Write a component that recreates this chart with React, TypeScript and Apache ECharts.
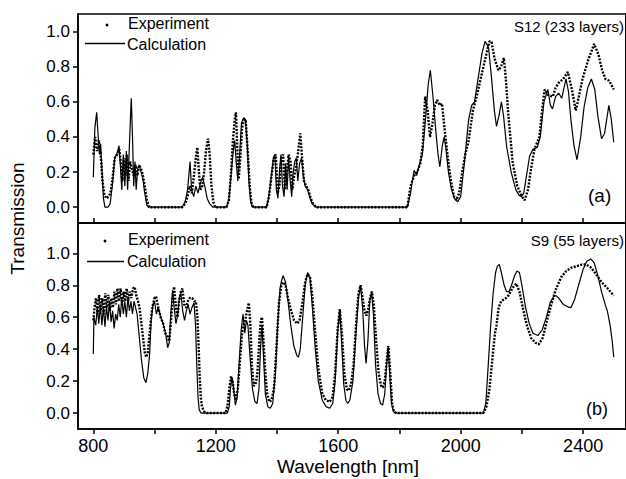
import React, { useEffect, useRef } from "react";
import * as echarts from "echarts";

// ---------- data (wavelength nm, transmission) ----------
const xMajorLabels = [800, 1200, 1600, 2000, 2400];
const xTicks = [800, 1000, 1200, 1400, 1600, 1800, 2000, 2200, 2400];
const yMajor = [0, 0.2, 0.4, 0.6, 0.8, 1.0];
const yMinor = [0.1, 0.3, 0.5, 0.7, 0.9];

const topExperiment: [number, number][] = [
  [800, 0.3], [806, 0.4], [812, 0.32], [818, 0.38], [824, 0.3], [830, 0.15], [836, 0.07], [843, 0.05],
  [850, 0.06], [856, 0.08], [862, 0.15], [870, 0.28], [878, 0.3], [885, 0.33], [890, 0.25], [895, 0.15],
  [900, 0.28], [905, 0.18], [910, 0.3], [915, 0.15], [920, 0.26], [926, 0.22], [932, 0.18], [938, 0.24],
  [944, 0.18], [950, 0.24], [956, 0.22], [962, 0.18], [968, 0.12], [975, 0.04], [982, 0.0], [1090, 0.0],
  [1100, 0.02], [1108, 0.06], [1115, 0.12], [1122, 0.08], [1130, 0.2], [1136, 0.3], [1140, 0.34], [1145, 0.2],
  [1150, 0.1], [1156, 0.12], [1162, 0.2], [1168, 0.32], [1175, 0.39], [1180, 0.3], [1186, 0.12], [1192, 0.03],
  [1198, 0.0], [1235, 0.0], [1243, 0.04], [1250, 0.2], [1256, 0.38], [1262, 0.5], [1266, 0.54], [1270, 0.35],
  [1275, 0.16], [1280, 0.28], [1286, 0.45], [1292, 0.5], [1298, 0.49], [1305, 0.3], [1311, 0.12], [1316, 0.03],
  [1322, 0.0], [1366, 0.0], [1374, 0.06], [1382, 0.18], [1390, 0.28], [1396, 0.3], [1402, 0.08], [1408, 0.12],
  [1414, 0.28], [1420, 0.3], [1426, 0.1], [1432, 0.2], [1438, 0.3], [1444, 0.26], [1450, 0.1], [1456, 0.18],
  [1462, 0.22], [1468, 0.3], [1476, 0.42], [1482, 0.28], [1488, 0.15], [1495, 0.12], [1502, 0.1], [1510, 0.05],
  [1518, 0.02], [1528, 0.0], [1826, 0.0], [1836, 0.12], [1848, 0.18], [1858, 0.2], [1868, 0.25], [1876, 0.35],
  [1884, 0.63], [1892, 0.55], [1900, 0.4], [1908, 0.48], [1916, 0.58], [1923, 0.61], [1932, 0.58], [1939, 0.59],
  [1949, 0.42], [1958, 0.28], [1968, 0.15], [1978, 0.06], [1986, 0.04], [1995, 0.08], [2005, 0.2], [2015, 0.3],
  [2026, 0.38], [2040, 0.55], [2052, 0.63], [2069, 0.76], [2085, 0.88], [2094, 0.945], [2101, 0.94], [2110, 0.85],
  [2123, 0.78], [2132, 0.8], [2141, 0.85], [2148, 0.72], [2155, 0.54], [2170, 0.25], [2185, 0.12], [2200, 0.06],
  [2209, 0.04], [2220, 0.1], [2230, 0.22], [2241, 0.33], [2257, 0.4], [2266, 0.55], [2274, 0.67], [2285, 0.64],
  [2301, 0.63], [2310, 0.68], [2321, 0.71], [2335, 0.73], [2350, 0.77], [2362, 0.68], [2376, 0.55], [2386, 0.63],
  [2398, 0.73], [2415, 0.83], [2436, 0.93], [2450, 0.87], [2462, 0.78], [2473, 0.73], [2485, 0.72], [2500, 0.67],
];

const topCalculation: [number, number][] = [
  [800, 0.17], [805, 0.45], [811, 0.54], [816, 0.4], [820, 0.3], [824, 0.36], [828, 0.22], [833, 0.05],
  [838, 0.0], [848, 0.0], [855, 0.02], [862, 0.12], [870, 0.28], [878, 0.31], [884, 0.35], [889, 0.22],
  [893, 0.1], [898, 0.3], [903, 0.12], [908, 0.32], [912, 0.1], [916, 0.26], [920, 0.45], [924, 0.62],
  [928, 0.4], [932, 0.12], [936, 0.26], [940, 0.1], [945, 0.22], [950, 0.24], [956, 0.2], [962, 0.16],
  [968, 0.08], [975, 0.01], [985, 0.0], [1090, 0.0], [1100, 0.03], [1108, 0.1], [1116, 0.26], [1121, 0.1],
  [1128, 0.06], [1135, 0.12], [1142, 0.08], [1150, 0.14], [1157, 0.17], [1164, 0.12], [1172, 0.05], [1180, 0.02],
  [1190, 0.0], [1235, 0.0], [1243, 0.05], [1250, 0.18], [1257, 0.32], [1262, 0.38], [1267, 0.25], [1272, 0.15],
  [1278, 0.3], [1284, 0.48], [1291, 0.51], [1297, 0.5], [1303, 0.35], [1308, 0.15], [1314, 0.03], [1320, 0.0],
  [1366, 0.0], [1372, 0.05], [1380, 0.15], [1388, 0.28], [1393, 0.3], [1398, 0.1], [1403, 0.05], [1408, 0.2],
  [1413, 0.3], [1418, 0.12], [1423, 0.06], [1428, 0.25], [1433, 0.1], [1438, 0.28], [1443, 0.15], [1448, 0.06],
  [1453, 0.2], [1458, 0.26], [1463, 0.28], [1468, 0.15], [1474, 0.25], [1480, 0.28], [1486, 0.18], [1492, 0.12],
  [1500, 0.1], [1508, 0.05], [1515, 0.02], [1525, 0.0], [1826, 0.0], [1836, 0.08], [1848, 0.21], [1856, 0.18],
  [1866, 0.25], [1875, 0.3], [1885, 0.5], [1894, 0.7], [1901, 0.78], [1910, 0.62], [1918, 0.45], [1926, 0.3],
  [1932, 0.23], [1940, 0.35], [1946, 0.4], [1952, 0.33], [1960, 0.2], [1970, 0.1], [1980, 0.05], [1990, 0.03],
  [2000, 0.06], [2012, 0.25], [2026, 0.5], [2036, 0.58], [2045, 0.6], [2058, 0.745], [2070, 0.88], [2080, 0.945],
  [2091, 0.91], [2100, 0.75], [2110, 0.55], [2117, 0.46], [2125, 0.52], [2133, 0.6], [2140, 0.52], [2150, 0.345],
  [2165, 0.2], [2180, 0.1], [2190, 0.07], [2198, 0.06], [2206, 0.08], [2215, 0.18], [2225, 0.29], [2236, 0.33],
  [2250, 0.34], [2260, 0.4], [2272, 0.6], [2285, 0.67], [2293, 0.58], [2300, 0.56], [2310, 0.63], [2320, 0.65],
  [2330, 0.62], [2344, 0.73], [2352, 0.66], [2360, 0.5], [2370, 0.35], [2380, 0.27], [2392, 0.4], [2403, 0.57],
  [2415, 0.68], [2427, 0.73], [2438, 0.67], [2448, 0.52], [2460, 0.39], [2470, 0.42], [2484, 0.58], [2492, 0.5],
  [2500, 0.37],
];

const bottomExperiment: [number, number][] = [
  [800, 0.58], [804, 0.66], [809, 0.72], [814, 0.62], [819, 0.74], [824, 0.64], [829, 0.72], [834, 0.62],
  [839, 0.75], [844, 0.66], [849, 0.74], [854, 0.64], [859, 0.72], [864, 0.66], [869, 0.76], [874, 0.68],
  [879, 0.78], [884, 0.7], [889, 0.78], [894, 0.68], [899, 0.76], [904, 0.7], [909, 0.78], [914, 0.7],
  [919, 0.76], [924, 0.72], [930, 0.78], [935, 0.79], [940, 0.74], [946, 0.7], [951, 0.66], [956, 0.58],
  [962, 0.48], [968, 0.38], [973, 0.35], [978, 0.38], [984, 0.5], [990, 0.62], [995, 0.68], [1000, 0.72],
  [1005, 0.73], [1012, 0.66], [1020, 0.6], [1028, 0.56], [1035, 0.5], [1042, 0.48], [1048, 0.45], [1054, 0.58],
  [1059, 0.72], [1064, 0.79], [1070, 0.66], [1075, 0.6], [1080, 0.7], [1086, 0.76], [1091, 0.78], [1097, 0.68],
  [1103, 0.66], [1109, 0.7], [1115, 0.72], [1123, 0.72], [1130, 0.7], [1135, 0.7], [1140, 0.6], [1144, 0.42],
  [1147, 0.25], [1151, 0.1], [1155, 0.04], [1162, 0.01], [1170, 0.0], [1232, 0.0], [1238, 0.04], [1244, 0.15],
  [1250, 0.23], [1255, 0.2], [1260, 0.12], [1266, 0.08], [1272, 0.15], [1280, 0.35], [1286, 0.5], [1292, 0.56],
  [1298, 0.6], [1304, 0.66], [1308, 0.69], [1313, 0.55], [1318, 0.3], [1324, 0.17], [1330, 0.18], [1336, 0.25],
  [1342, 0.45], [1347, 0.58], [1351, 0.6], [1356, 0.45], [1362, 0.25], [1368, 0.12], [1375, 0.07], [1382, 0.08],
  [1390, 0.15], [1398, 0.4], [1406, 0.68], [1414, 0.8], [1420, 0.82], [1428, 0.8], [1436, 0.72], [1446, 0.64],
  [1456, 0.58], [1466, 0.56], [1474, 0.58], [1484, 0.7], [1492, 0.82], [1500, 0.87], [1508, 0.85], [1516, 0.72],
  [1525, 0.5], [1535, 0.28], [1548, 0.12], [1560, 0.08], [1572, 0.07], [1582, 0.1], [1590, 0.25], [1598, 0.52],
  [1605, 0.65], [1612, 0.5], [1620, 0.25], [1628, 0.15], [1634, 0.14], [1642, 0.18], [1650, 0.3], [1658, 0.55],
  [1666, 0.75], [1673, 0.8], [1680, 0.72], [1686, 0.64], [1692, 0.61], [1698, 0.65], [1704, 0.72], [1710, 0.76],
  [1716, 0.68], [1724, 0.45], [1732, 0.25], [1740, 0.17], [1746, 0.16], [1752, 0.2], [1758, 0.32], [1764, 0.42],
  [1770, 0.25], [1776, 0.06], [1782, 0.01], [1790, 0.0], [2074, 0.0], [2084, 0.04], [2094, 0.15], [2104, 0.35],
  [2112, 0.5], [2117, 0.55], [2124, 0.66], [2132, 0.7], [2140, 0.71], [2148, 0.72], [2158, 0.74], [2168, 0.78],
  [2176, 0.8], [2182, 0.81], [2192, 0.76], [2204, 0.65], [2216, 0.55], [2230, 0.47], [2244, 0.44], [2255, 0.43],
  [2268, 0.47], [2282, 0.58], [2296, 0.68], [2310, 0.77], [2328, 0.85], [2345, 0.89], [2362, 0.91], [2380, 0.92],
  [2396, 0.93], [2410, 0.93], [2426, 0.91], [2442, 0.87], [2460, 0.82], [2480, 0.78], [2500, 0.735],
];

const bottomCalculation: [number, number][] = [
  [800, 0.37], [802, 0.6], [808, 0.55], [813, 0.66], [818, 0.56], [823, 0.68], [828, 0.55], [833, 0.66],
  [838, 0.54], [843, 0.67], [848, 0.58], [853, 0.7], [858, 0.57], [863, 0.64], [868, 0.53], [873, 0.62],
  [878, 0.58], [883, 0.68], [888, 0.6], [893, 0.72], [898, 0.62], [903, 0.7], [908, 0.6], [913, 0.72],
  [918, 0.64], [923, 0.7], [928, 0.62], [933, 0.7], [938, 0.66], [943, 0.62], [950, 0.48], [958, 0.32],
  [965, 0.22], [972, 0.19], [978, 0.25], [984, 0.37], [989, 0.58], [995, 0.68], [1000, 0.7], [1006, 0.62],
  [1012, 0.66], [1020, 0.6], [1028, 0.56], [1036, 0.5], [1043, 0.41], [1048, 0.44], [1053, 0.62], [1059, 0.77],
  [1064, 0.66], [1070, 0.56], [1076, 0.62], [1081, 0.72], [1086, 0.75], [1092, 0.64], [1098, 0.58], [1104, 0.64],
  [1110, 0.68], [1116, 0.62], [1122, 0.66], [1129, 0.69], [1134, 0.55], [1138, 0.3], [1142, 0.1], [1146, 0.02],
  [1152, 0.0], [1238, 0.0], [1244, 0.04], [1248, 0.15], [1253, 0.22], [1258, 0.16], [1264, 0.05], [1270, 0.1],
  [1276, 0.3], [1283, 0.52], [1289, 0.62], [1295, 0.5], [1300, 0.58], [1305, 0.55], [1312, 0.35], [1320, 0.15],
  [1328, 0.07], [1335, 0.06], [1341, 0.15], [1346, 0.4], [1351, 0.55], [1356, 0.35], [1362, 0.12], [1370, 0.04],
  [1378, 0.03], [1386, 0.06], [1395, 0.25], [1402, 0.55], [1410, 0.78], [1415, 0.83], [1420, 0.86], [1428, 0.82],
  [1436, 0.7], [1445, 0.55], [1455, 0.42], [1465, 0.36], [1470, 0.35], [1476, 0.4], [1484, 0.6], [1492, 0.8],
  [1500, 0.88], [1508, 0.84], [1516, 0.65], [1525, 0.4], [1535, 0.2], [1548, 0.08], [1560, 0.04], [1572, 0.03],
  [1582, 0.06], [1590, 0.2], [1598, 0.5], [1605, 0.65], [1611, 0.45], [1618, 0.18], [1625, 0.08], [1631, 0.06],
  [1638, 0.08], [1648, 0.2], [1658, 0.5], [1666, 0.72], [1673, 0.8], [1680, 0.65], [1686, 0.42], [1691, 0.31],
  [1697, 0.45], [1703, 0.7], [1709, 0.76], [1715, 0.62], [1722, 0.3], [1730, 0.12], [1738, 0.06], [1745, 0.05],
  [1752, 0.12], [1758, 0.3], [1763, 0.42], [1768, 0.25], [1774, 0.06], [1780, 0.01], [1786, 0.0], [2074, 0.0],
  [2082, 0.06], [2090, 0.3], [2098, 0.55], [2106, 0.75], [2114, 0.88], [2120, 0.92], [2126, 0.93], [2133, 0.88],
  [2142, 0.8], [2150, 0.76], [2158, 0.76], [2166, 0.8], [2176, 0.86], [2184, 0.89], [2192, 0.88], [2200, 0.8],
  [2212, 0.66], [2224, 0.56], [2236, 0.5], [2252, 0.485], [2266, 0.52], [2280, 0.6], [2292, 0.69], [2304, 0.73],
  [2311, 0.735], [2320, 0.72], [2335, 0.68], [2350, 0.665], [2360, 0.66], [2372, 0.71], [2385, 0.8], [2400, 0.9],
  [2412, 0.95], [2425, 0.965], [2436, 0.94], [2448, 0.86], [2460, 0.76], [2472, 0.68], [2479, 0.64], [2488, 0.55],
  [2495, 0.45], [2500, 0.35],
];

const FONT = "'Liberation Sans', Arial, sans-serif";

export default function App() {
  const ref = useRef<HTMLDivElement>(null);

  useEffect(() => {
    document.body.style.margin = "0";
    if (!ref.current) return;
    const chart = echarts.init(ref.current, null, { renderer: "svg" });

    const axisLine = () => ({ show: true, onZero: false, lineStyle: { color: "#000", width: 1.5 } });

    const xAxisBase = (gridIndex: number, bottom: boolean) => ({
      type: "value",
      gridIndex,
      min: 750,
      max: 2540,
      axisLine: axisLine(),
      splitLine: { show: false },
      axisTick: {
        show: true,
        inside: !bottom,
        length: 5,
        customValues: xTicks,
        lineStyle: { color: "#000", width: 1.5 },
      },
      axisLabel: bottom
        ? {
            show: true,
            customValues: xMajorLabels,
            formatter: (v: number) => String(Math.round(v)),
            fontSize: 18,
            color: "#000",
            fontFamily: FONT,
            margin: 8,
          }
        : { show: false },
    });

    const yAxisMajor = (gridIndex: number, min: number, max: number) => ({
      type: "value",
      gridIndex,
      min,
      max,
      axisLine: axisLine(),
      splitLine: { show: false },
      axisTick: { show: true, length: 5, customValues: yMajor, lineStyle: { color: "#000", width: 1.5 } },
      axisLabel: {
        show: true,
        customValues: yMajor,
        formatter: (v: number) => v.toFixed(1),
        fontSize: 17,
        color: "#000",
        fontFamily: FONT,
        margin: 8,
      },
    });

    const yAxisMinor = (gridIndex: number, min: number, max: number) => ({
      type: "value",
      gridIndex,
      min,
      max,
      axisLine: axisLine(),
      splitLine: { show: false },
      axisTick: { show: true, length: 3, customValues: yMinor, lineStyle: { color: "#000", width: 1.3 } },
      axisLabel: { show: false },
    });

    const expStyle = { color: "#000", width: 2.4, type: [2, 1.4] as number[] };
    const calcStyle = { color: "#000", width: 1.2 };

    const textStyle = (text: string, size: number) => ({
      text,
      fontSize: size,
      fontFamily: FONT,
      fill: "#000",
      verticalAlign: "middle",
    });

    chart.setOption({
      animation: false,
      backgroundColor: "#fff",
      grid: [
        { left: 78, top: 14, width: 553, height: 209, show: true, borderColor: "#000", borderWidth: 1.5 },
        { left: 78, top: 223, width: 553, height: 206, show: true, borderColor: "#000", borderWidth: 1.5 },
      ],
      xAxis: [xAxisBase(0, false), xAxisBase(1, true)],
      yAxis: [
        yAxisMajor(0, -0.09, 1.1),
        yAxisMinor(0, -0.09, 1.1),
        yAxisMajor(1, -0.1, 1.19),
        yAxisMinor(1, -0.1, 1.19),
      ],
      series: [
        { type: "line", name: "Experiment", xAxisIndex: 0, yAxisIndex: 0, data: topExperiment, symbol: "none", lineStyle: expStyle },
        { type: "line", name: "Calculation", xAxisIndex: 0, yAxisIndex: 0, data: topCalculation, symbol: "none", lineStyle: calcStyle },
        { type: "line", name: "Experiment", xAxisIndex: 1, yAxisIndex: 2, data: bottomExperiment, symbol: "none", lineStyle: expStyle },
        { type: "line", name: "Calculation", xAxisIndex: 1, yAxisIndex: 2, data: bottomCalculation, symbol: "none", lineStyle: calcStyle },
      ],
      graphic: [
        // top legend
        { type: "circle", shape: { cx: 107, cy: 25, r: 1.4 }, style: { fill: "#000" } },
        { type: "text", x: 128, y: 23, style: textStyle("Experiment", 16) },
        { type: "line", shape: { x1: 85, y1: 43.5, x2: 125, y2: 43.5 }, style: { stroke: "#000", lineWidth: 1.3 } },
        { type: "text", x: 127, y: 44, style: textStyle("Calculation", 16) },
        // bottom legend
        { type: "circle", shape: { cx: 105, cy: 241, r: 1.4 }, style: { fill: "#000" } },
        { type: "text", x: 128, y: 239, style: textStyle("Experiment", 16) },
        { type: "line", shape: { x1: 87, y1: 261.5, x2: 124, y2: 261.5 }, style: { stroke: "#000", lineWidth: 1.3 } },
        { type: "text", x: 127, y: 261, style: textStyle("Calculation", 16) },
        // annotations
        { type: "text", x: 624, y: 26.5, style: { ...textStyle("S12 (233 layers)", 15), align: "right" } },
        { type: "text", x: 588, y: 195, style: textStyle("(a)", 19) },
        { type: "text", x: 624, y: 240, style: { ...textStyle("S9 (55 layers)", 15), align: "right" } },
        { type: "text", x: 586, y: 409, style: textStyle("(b)", 18) },
        // axis titles
        {
          type: "text",
          x: 17,
          y: 218.5,
          rotation: Math.PI / 2,
          style: { ...textStyle("Transmission", 19), align: "center" },
        },
        { type: "text", x: 348, y: 466, style: { ...textStyle("Wavelength [nm]", 19), align: "center" } },
      ],
    });

    return () => chart.dispose();
  }, []);

  return <div ref={ref} style={{ width: 626, height: 479 }} />;
}
